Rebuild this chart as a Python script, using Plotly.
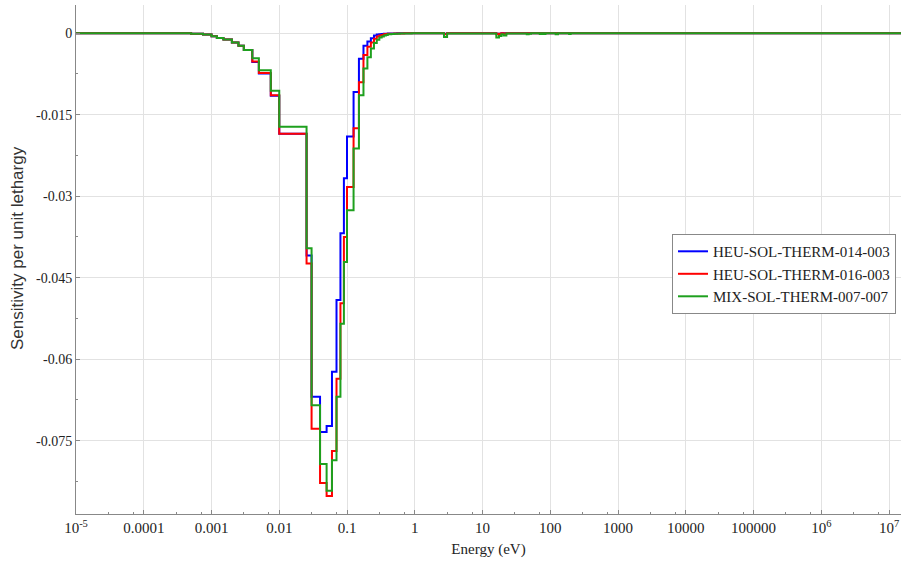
import plotly.graph_objects as go

# Group boundaries (eV)
energy_bounds = [1e-5, 1e-4, 5e-4, 7.5e-4, 1e-3, 1.2e-3, 1.5e-3, 2e-3, 2.5e-3, 3e-3,
                 4e-3, 5e-3, 7.5e-3, 1e-2, 2.53e-2, 3e-2, 4e-2, 5e-2, 6e-2, 7e-2,
                 8e-2, 9e-2, 0.1, 0.125, 0.15, 0.175, 0.2, 0.225, 0.25, 0.275,
                 0.3, 0.325, 0.35, 0.375, 0.4, 0.45, 0.5, 0.55, 0.6, 0.7,
                 0.8, 0.9, 1.0,
                 2.7, 3.0, 16, 17.5, 19, 20.5, 22.5, 45, 48, 52, 70, 75, 80, 85,
                 120, 130, 140, 190, 200, 210, 2e7]

heu_014 = [0, -0.00002, -0.0001, -0.00024, -0.00055, -0.00087, -0.00116, -0.0017, -0.0023, -0.0031,
           -0.0053, -0.0074, -0.0115, -0.0185, -0.0409, -0.0669, -0.0734, -0.0723, -0.0623, -0.0491,
           -0.0368, -0.0267, -0.0190, -0.0108, -0.0047, -0.0023, -0.0015, -0.0009, -0.0004, -0.00025,
           -0.00018, -0.00012, -0.0001, -0.00008, -0.00006, -0.00004, -0.00003, -0.00002, -0.00002, -0.00001,
           -0.00001, 0,
           0, -0.0001, 0, -0.0001, -0.0001, 0, 0, 0, 0, 0, 0, 0, 0, 0,
           0, 0, 0, 0, 0, 0, 0]

heu_016 = [0, -0.00002, -0.0001, -0.00024, -0.00055, -0.00087, -0.00116, -0.0017, -0.0023, -0.0031,
           -0.0052, -0.0073, -0.0114, -0.0185, -0.0424, -0.0728, -0.0828, -0.0852, -0.0769, -0.0636,
           -0.0497, -0.0375, -0.0283, -0.0175, -0.0090, -0.0040, -0.0025, -0.0017, -0.0010, -0.0006,
           -0.0004, -0.0003, -0.0002, -0.00015, -0.0001, -0.00008, -0.00006, -0.00004, -0.00003, -0.00002,
           -0.00001, -0.00001,
           0, -0.0002, 0, -0.0002, -0.0001, 0, -0.0001, 0, 0, 0, 0, 0, 0, 0,
           0, 0, 0, 0, 0, 0, 0]

mix_007 = [0, -0.00002, -0.0001, -0.00024, -0.00055, -0.00087, -0.00116, -0.0017, -0.0023, -0.0031,
           -0.0046, -0.0068, -0.0106, -0.0172, -0.0396, -0.0685, -0.0793, -0.0842, -0.0786, -0.0669,
           -0.0535, -0.0421, -0.0326, -0.0212, -0.0114, -0.0065, -0.0044, -0.0028, -0.0018, -0.0012,
           -0.0008, -0.0006, -0.0004, -0.0003, -0.0002, -0.00015, -0.0001, -0.00008, -0.00006, -0.00004,
           -0.00003, -0.00002,
           0, -0.0007, -0.00005, -0.0008, -0.0005, -0.0002, -0.0004, -0.00003, -0.0002, -0.0001, 0, -0.00015, 0, -0.00015,
           0, -0.0002, 0, 0, -0.00015, 0, 0]

series = [("HEU-SOL-THERM-014-003", heu_014, "#0000ff"),
          ("HEU-SOL-THERM-016-003", heu_016, "#ff0000"),
          ("MIX-SOL-THERM-007-007", mix_007, "#1ea01e")]

x_tickvals = [1e-5, 1e-4, 1e-3, 1e-2, 0.1, 1, 10, 100, 1000, 1e4, 1e5, 1e6, 1e7]
x_ticktext = ["10<sup>-5</sup>", "0.0001", "0.001", "0.01", "0.1", "1", "10", "100",
              "1000", "10000", "100000", "10<sup>6</sup>", "10<sup>7</sup>"]
y_tickvals = [0, -0.015, -0.03, -0.045, -0.06, -0.075]
y_ticktext = ["0", "-0.015", "-0.03", "-0.045", "-0.06", "-0.075"]

fig = go.Figure()
for name, vals, color in series:
    assert len(vals) == len(energy_bounds) - 1
    fig.add_trace(go.Scatter(
        x=energy_bounds, y=list(vals) + [vals[-1]],
        mode="lines", line=dict(shape="hv", color=color, width=2),
        name=name))

minor_x = []
for k in range(-5, 8):
    for m in (3, 7):
        minor_x.append(m * 10 ** k)

serif = "Liberation Serif"
fig.update_layout(
    width=902, height=565,
    margin=dict(l=76, r=1, t=5, b=51),
    paper_bgcolor="white", plot_bgcolor="white",
    font=dict(family=serif, size=15, color="#222"),
    showlegend=True,
    legend=dict(x=0.7224, y=0.550, xanchor="left", yanchor="top",
                bgcolor="white", bordercolor="#888", borderwidth=1,
                font=dict(family=serif, size=15, color="#222"),
                itemwidth=30, tracegroupgap=0),
    xaxis=dict(type="log", range=[-5, 7.177], automargin=False,
               tickvals=x_tickvals, ticktext=x_ticktext,
               tickfont=dict(family=serif, size=15, color="#222"),
               showgrid=True, gridcolor="#e2e2e2", gridwidth=1,
               showline=True, linecolor="#888", linewidth=1,
               ticks="inside", ticklen=4, tickcolor="#888",
               minor=dict(tickvals=minor_x, ticks="inside", ticklen=2, tickcolor="#888", showgrid=False),
               zeroline=False,
               title=dict(text="Energy (eV)", font=dict(family=serif, size=15, color="#222"), standoff=8)),
    yaxis=dict(range=[-0.0885, 0.0052], automargin=False,
               tickvals=y_tickvals, ticktext=y_ticktext,
               tickfont=dict(family=serif, size=14, color="#222"),
               showgrid=True, gridcolor="#e2e2e2", gridwidth=1,
               showline=True, linecolor="#888", linewidth=1,
               ticks="inside", ticklen=4, tickcolor="#888",
               minor=dict(dtick=0.0075, tick0=0, ticks="inside", ticklen=2, tickcolor="#888", showgrid=False),
               zeroline=False),
    annotations=[dict(text="Sensitivity per unit lethargy", textangle=-90,
                      xref="paper", yref="paper", x=-0.0703, y=0.5226,
                      xanchor="center", yanchor="middle", showarrow=False,
                      font=dict(family="Liberation Sans", size=17, color="#333"))],
)

fig.write_html("out.html", config={"displayModeBar": False},
               post_script="document.body.style.margin='0px';")
